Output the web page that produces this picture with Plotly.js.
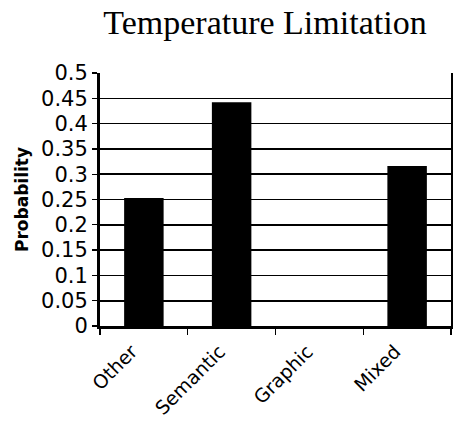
<!DOCTYPE html>
<html>
<head>
<meta charset="utf-8">
<script src="https://cdn.plot.ly/plotly-3.0.1.min.js"></script>
<style>html,body{margin:0;padding:0;background:#fff;}#chart{width:453px;height:424px;}</style>
</head>
<body>
<div id="chart"></div>
<script>
const categories = ["Other", "Semantic", "Graphic", "Mixed"];
const probability = [0.253, 0.442, 0, 0.316];
const yTicks = [0, 0.05, 0.1, 0.15, 0.2, 0.25, 0.3, 0.35, 0.4, 0.45, 0.5];
const yTickLabels = ["0", "0.05", "0.1", "0.15", "0.2", "0.25", "0.3", "0.35", "0.4", "0.45", "0.5"];

const trace = {
  type: "bar",
  x: categories,
  y: probability,
  width: 0.45,
  marker: {color: "#000", line: {width: 0}},
  hoverinfo: "x+y"
};

const layout = {
  width: 453,
  height: 424,
  margin: {l: 100, r: 2, t: 73, b: 98},
  paper_bgcolor: "#fff",
  plot_bgcolor: "#fff",
  showlegend: false,
  title: {
    text: "Temperature Limitation",
    font: {family: "Liberation Serif, Times New Roman, serif", size: 34, color: "#000"},
    xref: "paper", x: 0.47, xanchor: "center",
    yref: "container", y: 0.948, yanchor: "middle"
  },
  xaxis: {
    type: "category",
    tickson: "boundaries",
    ticks: "outside",
    ticklen: 6,
    tickwidth: 1.3,
    tickcolor: "#000",
    tickangle: -45,
    ticklabelshift: -12,
    ticklabelstandoff: 4,
    tickfont: {family: "DejaVu Sans, sans-serif", size: 19, color: "#000"},
    showline: true,
    linecolor: "#000",
    linewidth: 3,
    mirror: false,
    showgrid: false,
    zeroline: false,
    range: [-0.5, 3.5]
  },
  yaxis: {
    range: [0, 0.5],
    tickvals: yTicks,
    ticktext: yTickLabels,
    ticks: "outside",
    ticklen: 5,
    tickwidth: 1.3,
    tickcolor: "#000",
    tickfont: {family: "DejaVu Sans, sans-serif", size: 21, color: "#000"},
    showline: true,
    linecolor: "#000",
    linewidth: 3,
    mirror: true,
    showgrid: true,
    gridcolor: "#000",
    gridwidth: 1.6,
    zeroline: false,
    title: {
      text: "<b>Probability</b>",
      font: {family: "DejaVu Sans, sans-serif", size: 17, color: "#000"},
      standoff: 9
    }
  }
};

Plotly.newPlot("chart", [trace], layout, {displayModeBar: false, staticPlot: true});
</script>
</body>
</html>
